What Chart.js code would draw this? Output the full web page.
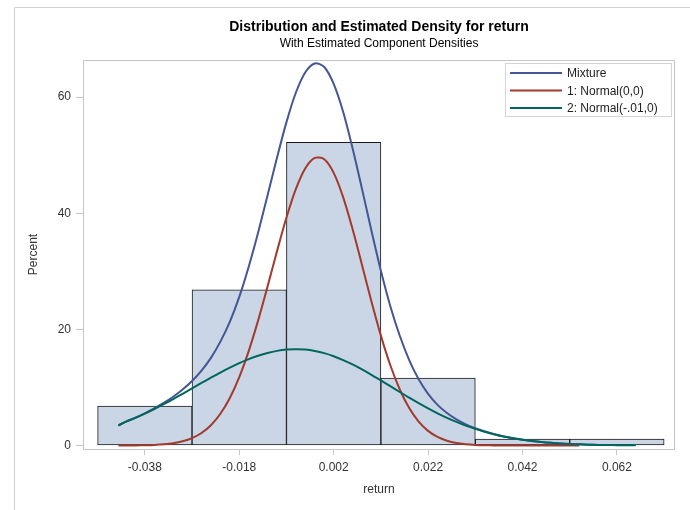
<!DOCTYPE html>
<html>
<head>
<meta charset="utf-8">
<script src="https://cdn.jsdelivr.net/npm/chart.js@4"></script>
<style>
  body { margin: 0; background: #fff; }
  #wrap { width: 690px; height: 510px; position: relative; }
</style>
</head>
<body>
<div id="wrap"><canvas id="densityChart" width="690" height="510"></canvas></div>
<script>
// histogram bins (midpoints) and percent
const binMids = [-0.038, -0.018, 0.002, 0.022, 0.042, 0.062];
const binPercent = [6.8, 26.8, 52.2, 11.6, 1.1, 1.1];

// x positions of the density curves
const curveX = [-0.0436, -0.042, -0.040, -0.038, -0.036, -0.034, -0.032, -0.030, -0.028, -0.026,
  -0.024, -0.022, -0.020, -0.018, -0.016, -0.014, -0.012, -0.010, -0.008, -0.006,
  -0.004, -0.002, 0.000, 0.002, 0.004, 0.006, 0.008, 0.010, 0.012, 0.014,
  0.016, 0.018, 0.020, 0.022, 0.024, 0.026, 0.028, 0.030, 0.032, 0.034,
  0.036, 0.038, 0.040, 0.042, 0.044, 0.046, 0.048, 0.050, 0.052, 0.054,
  0.056, 0.058, 0.060, 0.062, 0.064, 0.066];

const mixture = [3.45, 4.12, 4.79, 5.55, 6.39, 7.33, 8.39, 9.63, 11.1, 12.9,
  15.1, 17.9, 21.3, 25.6, 30.8, 36.7, 43.1, 49.6, 55.7, 60.8,
  64.3, 65.8, 65.2, 62.3, 57.5, 51.2, 44.2, 37.0, 30.1, 24.0,
  18.9, 14.7, 11.4, 8.9, 7.0, 5.6, 4.5, 3.65, 2.97, 2.41,
  1.95, 1.57, 1.26, 1.0, 0.79, 0.61, 0.47, 0.36, 0.27, 0.2,
  0.15, 0.11];

const normal1 = [0, 0.01, 0.02, 0.05, 0.1, 0.21, 0.39, 0.72, 1.27, 2.16,
  3.5, 5.47, 8.19, 11.78, 16.26, 21.55, 27.41, 33.48, 39.26, 44.19,
  47.75, 49.54, 49.3, 46.96, 42.79, 37.29, 31.1, 24.81, 18.93, 13.82,
  9.65, 6.45, 4.12, 2.52, 1.47, 0.83, 0.44, 0.23, 0.11, 0.05,
  0.02, 0.01, 0, 0, 0, 0, 0, 0, 0, 0];

const normal2 = [3.45, 4.11, 4.77, 5.5, 6.29, 7.12, 8.0, 8.91, 9.84, 10.77,
  11.68, 12.57, 13.41, 14.19, 14.88, 15.47, 15.95, 16.3, 16.52, 16.6,
  16.53, 16.29, 15.91, 15.38, 14.72, 13.96, 13.1, 12.18, 11.21, 10.22,
  9.22, 8.24, 7.3, 6.4, 5.55, 4.77, 4.06, 3.42, 2.86, 2.36,
  1.93, 1.56, 1.26, 1.0, 0.79, 0.61, 0.47, 0.36, 0.27, 0.2,
  0.15, 0.11, 0.08, 0.06, 0.04, 0.03];

const xTicks = [-0.038, -0.018, 0.002, 0.022, 0.042, 0.062];
const xTickLabels = ['-0.038', '-0.018', '0.002', '0.022', '0.042', '0.062'];
const yTicks = [0, 20, 40, 60];

const toPoints = (ys) => ys.map((y, i) => ({ x: curveX[i], y: y }));

const frameGray = '#c2c6cc';
const textColor = '#333333';
const fontFamily = '"Liberation Sans", Arial, sans-serif';

// titles, frame and the in-plot legend
const sasDecor = {
  id: 'sasDecor',
  afterDraw(chart) {
    const ctx = chart.ctx;
    const a = chart.chartArea;
    ctx.save();
    // outer page border (top and left)
    ctx.strokeStyle = '#d0d0d0';
    ctx.lineWidth = 1;
    ctx.beginPath();
    ctx.moveTo(14.5, 520);
    ctx.lineTo(14.5, 7.5);
    ctx.lineTo(700, 7.5);
    ctx.stroke();

    // wall frame
    ctx.strokeStyle = frameGray;
    ctx.strokeRect(a.left + 0.5, a.top + 0.5, a.right - a.left - 1, a.bottom - a.top);

    // titles
    const cx = (a.left + a.right) / 2;
    ctx.fillStyle = '#000';
    ctx.textAlign = 'center';
    ctx.textBaseline = 'middle';
    ctx.font = 'bold 14px ' + fontFamily;
    ctx.fillText('Distribution and Estimated Density for return', cx, 27);
    ctx.font = '12px ' + fontFamily;
    ctx.fillText('With Estimated Component Densities', cx, 44);

    // legend box
    const boxX = 505.5, boxY = 63.5, boxW = 166, boxH = 53;
    ctx.fillStyle = '#fff';
    ctx.fillRect(boxX, boxY, boxW, boxH);
    ctx.strokeStyle = '#d4d4d4';
    ctx.strokeRect(boxX, boxY, boxW, boxH);
    ctx.textAlign = 'left';
    ctx.font = '12px ' + fontFamily;
    const rows = [73, 90.5, 108];
    chart.data.datasets.filter(d => d.type === 'line').forEach((d, i) => {
      ctx.strokeStyle = d.borderColor;
      ctx.lineWidth = 2;
      ctx.beginPath();
      ctx.moveTo(510, rows[i]);
      ctx.lineTo(562, rows[i]);
      ctx.stroke();
      ctx.fillStyle = '#222';
      ctx.fillText(d.label, 567, rows[i] + 1);
    });
    ctx.restore();
  }
};

const data = {
  datasets: [
    {
      type: 'line',
      label: 'Mixture',
      data: toPoints(mixture),
      borderColor: '#445694',
      borderWidth: 2,
      pointRadius: 0,
      tension: 0.3,
      order: 3
    },
    {
      type: 'line',
      label: '1: Normal(0,0)',
      data: toPoints(normal1),
      borderColor: '#a23a2e',
      borderWidth: 2,
      pointRadius: 0,
      tension: 0.3,
      order: 2
    },
    {
      type: 'line',
      label: '2: Normal(-.01,0)',
      data: toPoints(normal2),
      borderColor: '#01665e',
      borderWidth: 2,
      pointRadius: 0,
      tension: 0.3,
      order: 1
    },
    {
      type: 'bar',
      label: 'return',
      data: binMids.map((m, i) => ({ x: m, y: binPercent[i] })),
      backgroundColor: '#cad5e5',
      borderColor: '#1a1a1a',
      borderWidth: 1,
      borderSkipped: false,
      barPercentage: 1,
      categoryPercentage: 1,
      order: 4
    }
  ]
};

const config = {
  type: 'bar',
  data: data,
  options: {
    responsive: false,
    animation: false,
    layout: { padding: { left: 0, right: 15, top: 60, bottom: 0 } },
    scales: {
      x: {
        type: 'linear',
        min: -0.0511,
        max: 0.0743,
        offset: false,
        afterBuildTicks: (s) => { s.ticks = xTicks.map(v => ({ value: v })); },
        afterFit: (s) => { s.height = 61; },
        grid: { offset: false, drawOnChartArea: false, drawTicks: true, tickLength: 6, color: frameGray },
        border: { display: false },
        ticks: {
          color: textColor,
          padding: 5,
          maxRotation: 0,
          font: { size: 12, family: fontFamily },
          callback: (v, i) => xTickLabels[i]
        },
        title: {
          display: true,
          text: 'return',
          color: textColor,
          font: { size: 12, family: fontFamily },
          padding: { top: 13, bottom: 13 }
        }
      },
      y: {
        min: -0.6,
        max: 66.4,
        afterBuildTicks: (s) => { s.ticks = yTicks.map(v => ({ value: v })); },
        afterFit: (s) => { s.width = 83; },
        grid: { drawOnChartArea: false, drawTicks: true, tickLength: 7, color: frameGray },
        border: { display: false },
        ticks: {
          color: textColor,
          padding: 5,
          font: { size: 12, family: fontFamily }
        },
        title: {
          display: true,
          text: 'Percent',
          color: textColor,
          font: { size: 12, family: fontFamily },
          padding: { top: 26, bottom: 26 }
        }
      }
    },
    plugins: {
      legend: { display: false },
      tooltip: { enabled: false },
      title: { display: false }
    }
  },
  plugins: [sasDecor]
};

const ctx = document.getElementById('densityChart').getContext('2d');
const densityChart = new Chart(ctx, config);
</script>
</body>
</html>
